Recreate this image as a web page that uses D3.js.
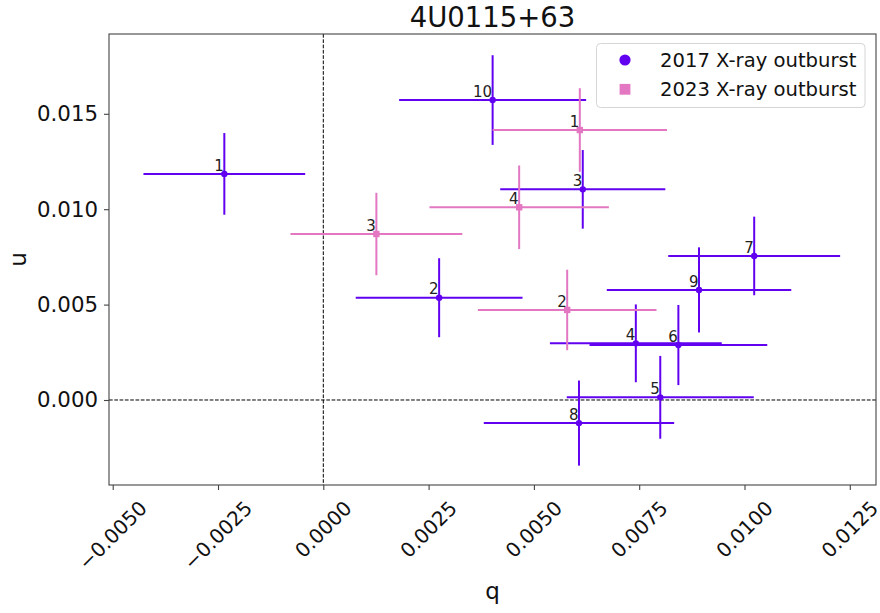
<!DOCTYPE html>
<html>
<head>
<meta charset="utf-8">
<script src="https://cdn.jsdelivr.net/npm/d3@7"></script>
<style>
  html, body { margin: 0; padding: 0; background: #fff; }
  svg { display: block; font-family: "DejaVu Sans", sans-serif; }
</style>
</head>
<body>
<svg id="chart" width="880" height="613"></svg>
<script>
// Stokes q/u polarimetry of 4U0115+63, two outbursts
const labels2017 = ["1", "2", "3", "4", "5", "6", "7", "8", "9", "10"];
const q2017      = [-0.00235, 0.00275, 0.00616, 0.00742, 0.00800, 0.00843, 0.01023, 0.00607, 0.00892, 0.00402];
const qErr2017   = [0.00192, 0.00198, 0.00196, 0.00204, 0.00222, 0.00211, 0.00204, 0.00226, 0.00219, 0.00222];
const u2017      = [0.01185, 0.00536, 0.01104, 0.00297, 0.00014, 0.00288, 0.00755, -0.00121, 0.00577, 0.01572];
const uErr2017   = [0.00214, 0.00207, 0.00206, 0.00204, 0.00217, 0.00210, 0.00206, 0.00223, 0.00223, 0.00235];

const labels2023 = ["1", "2", "3", "4"];
const q2023      = [0.00609, 0.00579, 0.00126, 0.00465];
const qErr2023   = [0.00207, 0.00212, 0.00204, 0.00213];
const u2023      = [0.01415, 0.00472, 0.00870, 0.01010];
const uErr2023   = [0.00219, 0.00211, 0.00216, 0.00219];

const xTicks = [-0.005, -0.0025, 0, 0.0025, 0.005, 0.0075, 0.01, 0.0125];
const yTicks = [0, 0.005, 0.01, 0.015];

const seriesNames = ["2017 X-ray outburst", "2023 X-ray outburst"];
const colors = ["#6200f0", "#e377c2"];

const svg = d3.select("#chart");
const m = { left: 109, right: 876, top: 34, bottom: 485 };

const x = d3.scaleLinear().domain([-0.005088, 0.013122]).range([m.left, m.right]);
const y = d3.scaleLinear().domain([-0.004455, 0.019182]).range([m.bottom, m.top]);

const fmtX = v => (v < 0 ? "\u2212" : "") + Math.abs(v).toFixed(4);
const fmtY = v => v.toFixed(3);

// reference lines at zero
svg.append("line")
  .attr("x1", x(0)).attr("x2", x(0)).attr("y1", m.top).attr("y2", m.bottom)
  .attr("stroke", "#000").attr("stroke-width", 1).attr("stroke-dasharray", "3.7,1.6");
svg.append("line")
  .attr("x1", m.left).attr("x2", m.right).attr("y1", y(0)).attr("y2", y(0))
  .attr("stroke", "#000").attr("stroke-width", 1).attr("stroke-dasharray", "3.7,1.6");

function series(qs, qe, us, ue, labs) {
  return qs.map((q, i) => ({ q, qe: qe[i], u: us[i], ue: ue[i], label: labs[i] }));
}
const data = [
  series(q2017, qErr2017, u2017, uErr2017, labels2017),
  series(q2023, qErr2023, u2023, uErr2023, labels2023)
];

data.forEach((pts, si) => {
  const g = svg.append("g");
  const c = colors[si];
  g.selectAll(".xe").data(pts).join("line")
    .attr("x1", d => x(d.q - d.qe)).attr("x2", d => x(d.q + d.qe))
    .attr("y1", d => y(d.u)).attr("y2", d => y(d.u))
    .attr("stroke", c).attr("stroke-width", 2);
  g.selectAll(".ye").data(pts).join("line")
    .attr("x1", d => x(d.q)).attr("x2", d => x(d.q))
    .attr("y1", d => y(d.u - d.ue)).attr("y2", d => y(d.u + d.ue))
    .attr("stroke", c).attr("stroke-width", 2);
  if (si === 0) {
    g.selectAll(".m").data(pts).join("circle")
      .attr("cx", d => x(d.q)).attr("cy", d => y(d.u)).attr("r", 3.2).attr("fill", c);
  } else {
    g.selectAll(".m").data(pts).join("rect")
      .attr("x", d => x(d.q) - 3.2).attr("y", d => y(d.u) - 3.2)
      .attr("width", 6.4).attr("height", 6.4).attr("fill", c);
  }
  g.selectAll(".lab").data(pts).join("text")
    .attr("x", d => x(d.q) - 0.5).attr("y", d => y(d.u) - 3.3)
    .attr("text-anchor", "end").attr("font-size", 15).attr("fill", "#222")
    .text(d => d.label);
});

// axes frame
svg.append("rect")
  .attr("x", m.left).attr("y", m.top)
  .attr("width", m.right - m.left).attr("height", m.bottom - m.top)
  .attr("fill", "none").attr("stroke", "#444").attr("stroke-width", 1.1);

// x axis
const xAxis = d3.axisBottom(x).tickValues(xTicks).tickSize(5).tickFormat("");
const gx = svg.append("g").attr("transform", `translate(0,${m.bottom})`).call(xAxis);
gx.select(".domain").remove();
gx.selectAll("line").attr("stroke", "#444").attr("stroke-width", 1.1);

xTicks.forEach(v => {
  const t = svg.append("text")
    .attr("font-size", 20).attr("fill", "#111")
    .attr("text-anchor", "middle").attr("dominant-baseline", "central")
    .text(fmtX(v));
  const L = t.node().getComputedTextLength();
  const h = 20 * 0.8;
  const half = (L + h) / Math.SQRT2 / 2;
  const cx = x(v), cy = m.bottom + 14 + half;
  t.attr("x", cx).attr("y", cy).attr("transform", `rotate(-45,${cx},${cy})`);
});

// y axis
const yAxis = d3.axisLeft(y).tickValues(yTicks).tickSize(5).tickPadding(6).tickFormat(fmtY);
const gy = svg.append("g").attr("transform", `translate(${m.left},0)`).call(yAxis);
gy.select(".domain").remove();
gy.selectAll("line").attr("stroke", "#444").attr("stroke-width", 1.1);
gy.selectAll("text").attr("font-size", 21.3).attr("fill", "#111")
  .attr("font-family", "DejaVu Sans, sans-serif");

// titles
svg.append("text").attr("x", (m.left + m.right) / 2).attr("y", 26.5)
  .attr("text-anchor", "middle").attr("font-size", 27.5).attr("fill", "#111")
  .text("4U0115+63");
svg.append("text").attr("x", (m.left + m.right) / 2).attr("y", 599)
  .attr("text-anchor", "middle").attr("font-size", 23).attr("fill", "#111")
  .text("q");
svg.append("text")
  .attr("transform", `translate(26,${(m.top + m.bottom) / 2}) rotate(-90)`)
  .attr("text-anchor", "middle").attr("font-size", 23).attr("fill", "#111")
  .text("u");

// legend
const lg = svg.append("g");
lg.append("rect").attr("x", 596.5).attr("y", 43.5).attr("width", 268.5).attr("height", 64)
  .attr("rx", 4).attr("fill", "#fff").attr("fill-opacity", 0.85)
  .attr("stroke", "#d6d6d6").attr("stroke-width", 1);
const rows = [60, 89.3];
lg.append("circle").attr("cx", 625).attr("cy", rows[0]).attr("r", 5.6).attr("fill", colors[0]);
lg.append("rect").attr("x", 625 - 5.4).attr("y", rows[1] - 5.4).attr("width", 10.8).attr("height", 10.8)
  .attr("fill", colors[1]);
seriesNames.forEach((s, i) => {
  lg.append("text").attr("x", 660).attr("y", rows[i] + 6.9)
    .attr("font-size", 19.6).attr("fill", "#111").text(s);
});
</script>
</body>
</html>
